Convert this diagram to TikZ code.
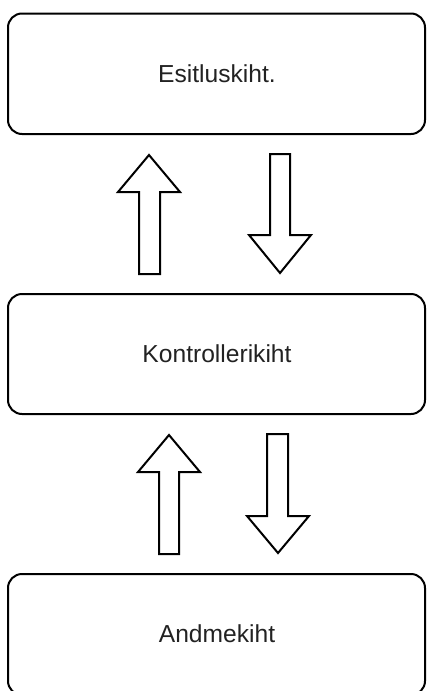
\documentclass[tikz,border=0pt]{standalone}
\usepackage{fontspec}
\setmainfont{Liberation Sans}
\begin{document}
\begin{tikzpicture}[x=1pt,y=-1pt,
  layerbox/.style={draw=black, line width=2pt, rounded corners=14pt, fill=white},
  layertext/.style={font=\fontsize{24.6}{30}\selectfont, text={rgb,255:red,34;green,34;blue,34}, inner sep=0pt},
  fatarrow/.style={draw=black, line width=2pt, fill=white, line join=miter}]
\clip (0,0) rectangle (426,691);
\fill[white] (0,0) rectangle (426,691);
% boxes
\draw[layerbox] (8,13.5) rectangle (425,134);
\draw[layerbox] (8,294) rectangle (425,414);
\draw[layerbox] (8,574) rectangle (425,695);
\node[layertext] (top) at (217,74) {Esitluskiht.};
\node[layertext] (mid) at (217,354) {Kontrollerikiht};
\node[layertext] (bot) at (217,634) {Andmekiht};
% arrows between top and middle
\draw[fatarrow] (149,155) -- (180,192) -- (160,192) -- (160,274) -- (139,274) -- (139,192) -- (118,192) -- cycle;
\draw[fatarrow] (270,154) -- (290,154) -- (290,235) -- (311,235) -- (280,273) -- (249,235) -- (270,235) -- cycle;
% arrows between middle and bottom
\draw[fatarrow] (169,435) -- (200,472) -- (179,472) -- (179,554) -- (159,554) -- (159,472) -- (138,472) -- cycle;
\draw[fatarrow] (267,434) -- (288,434) -- (288,516) -- (309,516) -- (278,553) -- (247,516) -- (267,516) -- cycle;
\end{tikzpicture}
\end{document}
